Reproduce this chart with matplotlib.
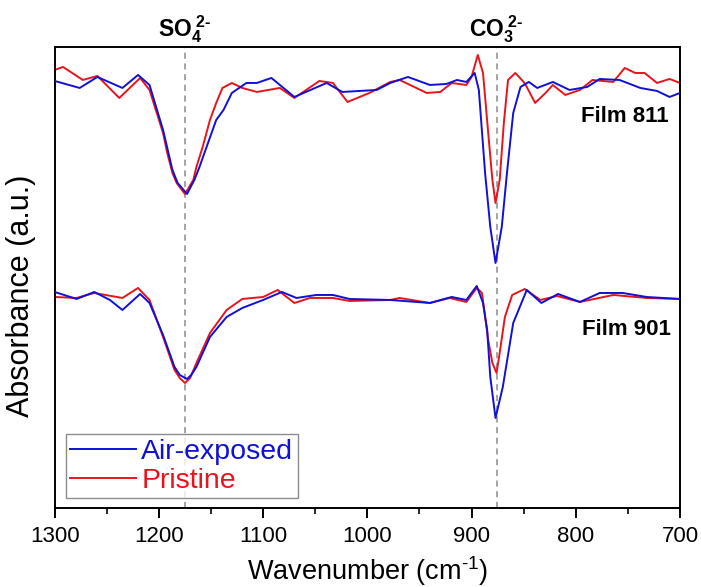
import numpy as np
import matplotlib
matplotlib.use("Agg")
import matplotlib.pyplot as plt

plt.rcParams['font.family'] = ['Liberation Sans', 'DejaVu Sans']
plt.rcParams['mathtext.fontset'] = 'custom'
plt.rcParams['mathtext.rm'] = 'Liberation Sans'
plt.rcParams['mathtext.it'] = 'Liberation Sans'
plt.rcParams['mathtext.bf'] = 'Liberation Sans:bold'

# Film 811 (upper pair, offset)
wn_p811 = [1300, 1292, 1273, 1259, 1238, 1218, 1209, 1196, 1192, 1187, 1183, 1175, 1167,
           1164, 1158, 1151, 1145, 1139, 1130, 1120, 1106, 1084, 1070, 1046, 1033, 1019, 998,
           978, 969, 943, 930, 919, 905, 900, 894, 889, 884, 880, 877, 873, 869, 865, 858,
           850, 847, 839, 828, 822, 810, 796, 784, 764, 753, 743, 734, 722, 710, 700]
ab_p811 = [4.38, 4.41, 4.28, 4.32, 4.10, 4.30, 4.18, 3.75, 3.55, 3.35, 3.25, 3.14, 3.28,
           3.41, 3.61, 3.88, 4.05, 4.20, 4.25, 4.20, 4.16, 4.20, 4.10, 4.27, 4.25, 4.06, 4.15,
           4.26, 4.28, 4.15, 4.16, 4.25, 4.23, 4.31, 4.53, 4.35, 3.75, 3.28, 3.05, 3.28, 3.85,
           4.28, 4.35, 4.26, 4.21, 4.05, 4.16, 4.23, 4.13, 4.18, 4.28, 4.26, 4.40, 4.35, 4.35,
           4.25, 4.29, 4.25]

wn_a811 = [1300, 1276, 1259, 1235, 1220, 1209, 1196, 1187, 1182, 1173, 1166, 1161, 1158,
           1145, 1138, 1130, 1116, 1106, 1092, 1070, 1039, 1024, 991, 978, 961, 940, 924, 914,
           905, 897, 893, 887, 882, 877, 871, 866, 860, 853, 845, 837, 822, 806, 789, 777,
           758, 738, 722, 710, 700]
ab_a811 = [4.27, 4.20, 4.31, 4.20, 4.33, 4.23, 3.78, 3.38, 3.25, 3.14, 3.28, 3.41, 3.50,
           3.88, 3.98, 4.15, 4.25, 4.25, 4.30, 4.11, 4.25, 4.16, 4.18, 4.25, 4.31, 4.23, 4.24,
           4.28, 4.26, 4.35, 4.18, 3.35, 2.81, 2.45, 2.81, 3.35, 3.95, 4.21, 4.26, 4.20, 4.26,
           4.18, 4.21, 4.29, 4.28, 4.20, 4.17, 4.11, 4.15]

# Film 901 (lower pair)
wn_p901 = [1300, 1279, 1262, 1235, 1220, 1209, 1196, 1185, 1180, 1175, 1170, 1164, 1151,
           1135, 1120, 1100, 1086, 1070, 1055, 1033, 1017, 978, 969, 940, 921, 905, 895, 890,
           884, 880, 876, 873, 868, 861, 849, 834, 818, 796, 764, 732, 700]
ab_p901 = [2.11, 2.10, 2.15, 2.10, 2.20, 2.08, 1.71, 1.38, 1.30, 1.25, 1.30, 1.45, 1.75,
           1.98, 2.09, 2.11, 2.18, 2.05, 2.10, 2.10, 2.07, 2.08, 2.10, 2.05, 2.10, 2.06, 2.20,
           2.15, 1.68, 1.45, 1.35, 1.55, 1.91, 2.13, 2.19, 2.08, 2.12, 2.06, 2.13, 2.10, 2.09]

wn_a901 = [1300, 1279, 1262, 1247, 1235, 1218, 1209, 1196, 1185, 1180, 1173, 1169, 1164,
           1151, 1135, 1120, 1100, 1082, 1068, 1049, 1033, 1017, 978, 940, 919, 905, 895, 889,
           885, 882, 877, 870, 865, 860, 847, 833, 817, 796, 777, 755, 732, 700]
ab_a901 = [2.16, 2.09, 2.16, 2.08, 1.98, 2.14, 2.05, 1.73, 1.41, 1.33, 1.29, 1.33, 1.41,
           1.71, 1.91, 2.00, 2.08, 2.16, 2.10, 2.13, 2.13, 2.09, 2.08, 2.05, 2.11, 2.08, 2.22,
           2.05, 1.78, 1.31, 0.90, 1.21, 1.53, 1.85, 2.18, 2.05, 2.14, 2.06, 2.15, 2.15, 2.11,
           2.09]

peak_pos = [1175, 876]
peak_names = ['$\\mathbf{SO_4^{\\ 2\u2010}}$', '$\\mathbf{CO_3^{\\ 2\u2010}}$']
film_names = ['Film 811', 'Film 901']

blue = '#1010d8'
red = '#e8141c'

fig = plt.figure(figsize=(7.01, 5.87), dpi=100)
ax = fig.add_axes([0.078, 0.1346, 0.892, 0.7854])

for x in peak_pos:
    ax.axvline(x, color='#8c8c8c', lw=1.1, ls=(0, (4, 3)), zorder=1)

ax.plot(wn_a811, ab_a811, color=blue, lw=1.4, label='Air-exposed', zorder=3)
ax.plot(wn_p811, ab_p811, color=red, lw=1.4, label='Pristine', zorder=2)
ax.plot(wn_a901, ab_a901, color=blue, lw=1.4, zorder=3)
ax.plot(wn_p901, ab_p901, color=red, lw=1.4, zorder=2)

ax.set_xlim(1300, 700)
ax.set_ylim(0, 4.61)
ax.set_xticks(np.arange(1300, 699, -100))
ax.set_xticks(np.arange(1250, 700, -100), minor=True)
ax.set_yticks([])
ax.tick_params(axis='x', which='major', direction='out', length=7, width=1.4, labelsize=16, pad=6)
ax.tick_params(axis='x', which='minor', direction='out', length=4, width=1.2)
for s in ax.spines.values():
    s.set_linewidth(1.4)

ax.set_xlabel('Wavenumber (cm$^{\u20101}$)', fontsize=19.5, labelpad=5)
ax.set_ylabel('Absorbance (a.u.)', fontsize=22)
ax.yaxis.set_label_coords(-0.03, 0.46)

tr = ax.get_xaxis_transform()
for x, name in zip(peak_pos, peak_names):
    ax.text(x, 1.022, name, transform=tr, ha='center', va='baseline', fontsize=16.5)

ax.text(711, 3.91, film_names[0], ha='right', va='center', fontsize=16, fontweight='bold')
ax.text(709, 1.78, film_names[1], ha='right', va='center', fontsize=16, fontweight='bold')

leg = ax.legend(loc='lower left', bbox_to_anchor=(0.018, 0.022), fontsize=20.5, frameon=True,
                fancybox=False, edgecolor='#707070', handlelength=2.3, handletextpad=0.2,
                borderpad=0.15, labelspacing=0.1, borderaxespad=0)
leg.get_frame().set_linewidth(1.0)
for txt, c in zip(leg.get_texts(), [blue, red]):
    txt.set_color(c)

fig.savefig('out.png', dpi=100)
